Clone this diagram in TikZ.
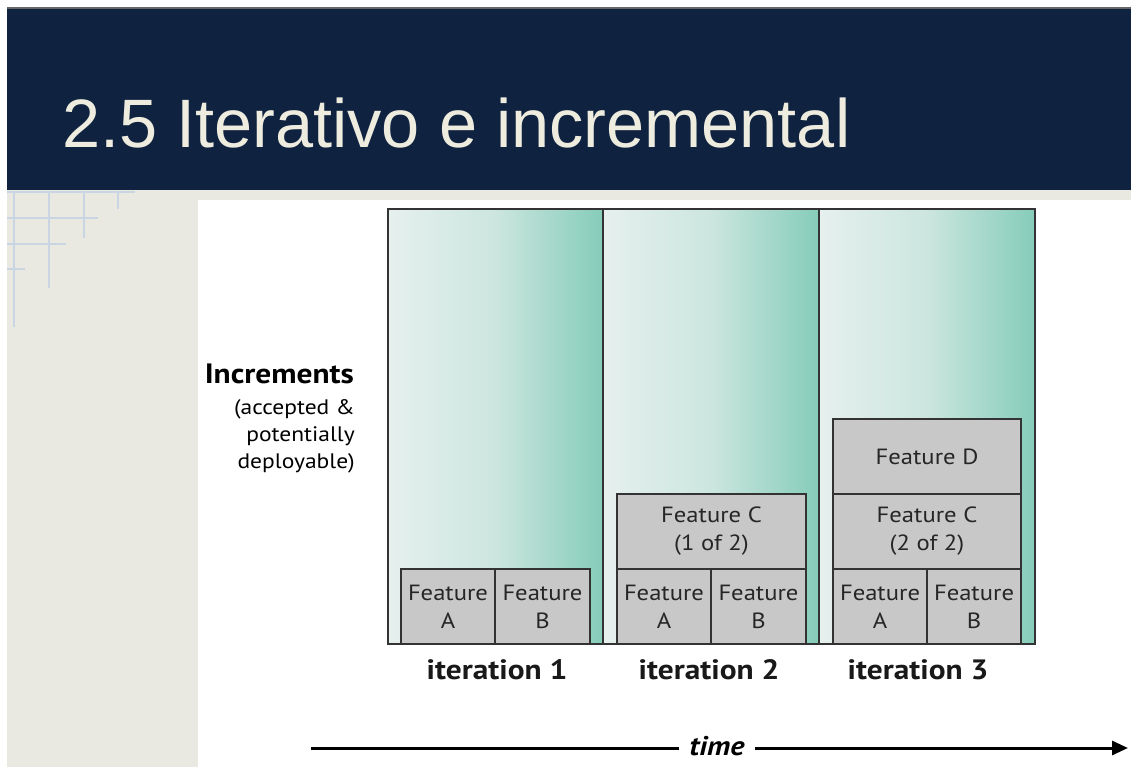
\documentclass[tikz,border=0pt]{standalone}
\usepackage{fontspec}
\setmainfont{Liberation Sans}
\newfontfamily\diagfont[FakeStretch=1.12]{PT Sans}
\usetikzlibrary{arrows.meta}
\definecolor{navy}{HTML}{0F223F}
\definecolor{titletext}{HTML}{EEEBDF}
\definecolor{beige}{HTML}{EAE9E1}
\definecolor{gridblue}{HTML}{C9D5E3}
\definecolor{lightcol}{HTML}{E6F0EE}
\definecolor{midcol}{HTML}{CCE6DF}
\definecolor{tealcol}{HTML}{85CCB9}
\definecolor{featgray}{HTML}{C8C8C8}
\definecolor{edge}{HTML}{333333}
\tikzset{
  feat/.style={draw=edge, line width=1.6pt, fill=featgray, inner sep=0pt, align=center,
    font=\diagfont\fontsize{22}{28}\selectfont, text=black!85},
  itlabel/.style={font=\diagfont\bfseries\fontsize{28}{32}\selectfont, text=black!90, inner sep=0pt},
  col/.style={left color=lightcol, right color=tealcol, middle color=midcol},
  gridline/.style={draw=gridblue, line width=1.4pt}
}
\begin{document}
\begin{tikzpicture}[x=1pt,y=-1pt]
\useasboundingbox (0,0) rectangle (1131,767);
\fill[white] (0,0) rectangle (1131,767);
% background
\fill[beige] (7,190) rectangle (1131,767);
\fill[white] (198,200) rectangle (1131,767);
\fill[navy] (7,8) rectangle (1131,190);
\draw[gray!80!black, line width=1.2pt] (7,8) -- (1131,8);
% grid lines
\draw[gridline] (7,192) -- (135,192);
\draw[gridline] (7,218) -- (98,218);
\draw[gridline] (7,244) -- (66,244);
\draw[gridline] (7,269) -- (25,269);
\draw[gridline] (14,192) -- (14,327);
\draw[gridline] (49,192) -- (49,288);
\draw[gridline] (84,192) -- (84,238);
\draw[gridline] (118,192) -- (118,209);
% title
\node[anchor=base west, text=titletext, font=\fontsize{68.5}{70}\selectfont, inner sep=0pt] (title) at (62,148) {2.5 Iterativo e incremental};
% columns
\shade[col] (388,209) rectangle (603,644);
\shade[col] (603,209) rectangle (819,644);
\shade[col] (819,209) rectangle (1035,644);
\draw[edge, line width=1.6pt] (388,209) rectangle (1035,644);
\draw[edge, line width=1.6pt] (603,209) -- (603,644);
\draw[edge, line width=1.6pt] (819,209) -- (819,644);
% features column 1
\node[feat, minimum width=94pt, minimum height=75pt] (a1) at (448,606.5) {Feature\\A};
\node[feat, minimum width=95pt, minimum height=75pt] (b1) at (542.5,606.5) {Feature\\B};
% column 2
\node[feat, minimum width=189pt, minimum height=75pt] (c1) at (711.5,531.5) {Feature C\\(1 of 2)};
\node[feat, minimum width=94pt, minimum height=75pt] (a2) at (664,606.5) {Feature\\A};
\node[feat, minimum width=95pt, minimum height=75pt] (b2) at (758.5,606.5) {Feature\\B};
% column 3
\node[feat, minimum width=188pt, minimum height=75pt] (d3) at (927,456.5) {Feature D};
\node[feat, minimum width=188pt, minimum height=75pt] (c3) at (927,531.5) {Feature C\\(2 of 2)};
\node[feat, minimum width=94pt, minimum height=75pt] (a3) at (880,606.5) {Feature\\A};
\node[feat, minimum width=94pt, minimum height=75pt] (b3) at (974,606.5) {Feature\\B};
% iteration labels
\node[itlabel] (it1) at (497,670) {iteration 1};
\node[itlabel] (it2) at (709,670) {iteration 2};
\node[itlabel] (it3) at (918,670) {iteration 3};
% increments
\node[anchor=east, font=\diagfont\bfseries\fontsize{28}{32}\selectfont, inner sep=0pt] (incr) at (354,374) {Increments};
\node[anchor=north east, align=right, font=\diagfont\fontsize{21}{27}\selectfont, inner sep=0pt] (incrsub) at (355,399) {(accepted \&\\potentially\\deployable)};
% time arrow
\node[font=\diagfont\bfseries\itshape\fontsize{27}{30}\selectfont, inner sep=0pt] (time) at (717,746) {time};
\coordinate (tstart) at (311,748);
\coordinate (tend) at (1128,748);
\draw[line width=3pt] (tstart) -- ([xshift=-10pt]time.west |- tstart);
\draw[line width=3pt, -{Triangle[length=16pt,width=14pt]}] ([xshift=10pt]time.east |- tend) -- (tend);
\end{tikzpicture}
\end{document}
